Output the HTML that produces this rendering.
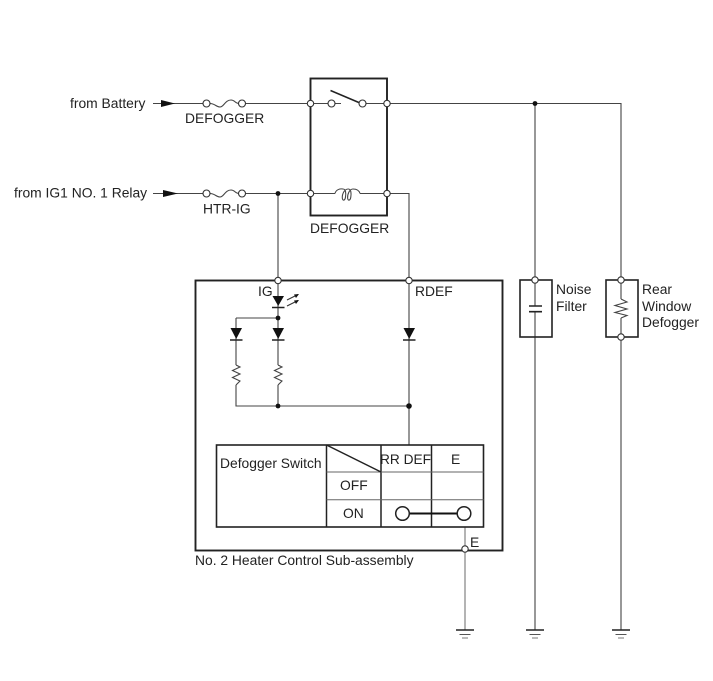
<!DOCTYPE html>
<html>
<head>
<meta charset="utf-8">
<style>
html,body{margin:0;padding:0;background:#fff}
svg{display:block}
text{font-family:"Liberation Sans",Arial,sans-serif;font-size:13.85px;fill:#222}
.w{stroke:#444;stroke-width:1.1;fill:none}
.b{stroke:#222;stroke-width:1.9;fill:none}
.c{stroke:#333;stroke-width:1.1;fill:#fff}
.d{fill:#111;stroke:none}
</style>
</head>
<body>
<svg width="713" height="681" viewBox="0 0 713 681" xmlns="http://www.w3.org/2000/svg">
<rect width="713" height="681" fill="#fff"/>

<!-- wires -->
<path class="w" d="M153 103.500H203M246 103.500H328M335 103.500H341M366 103.500H621V630"/>
<path class="w" d="M153 193.500H203M246 193.500H335M360 193.500H409V445"/>
<path class="w" d="M278 193.500V406"/>
<path class="w" d="M236 318H278M236 318V406H409"/>
<path class="w" d="M535 103.500V630"/>
<path class="w" d="M465 527V630" style="stroke:#777"/>

<!-- fuses -->
<path class="w" d="M210 103.500c5 0 6 3.500 10 3.500s5-7 11-7c4 0 4 3.500 8 3.500"/>
<path class="w" d="M210 193.500c5 0 6 3.500 10 3.500s5-7 11-7c4 0 4 3.500 8 3.500"/>

<!-- relay box -->
<rect class="b" x="310.500" y="78.500" width="76.500" height="137"/>
<rect x="336" y="186" width="24" height="10" fill="#fff"/>
<path class="w" d="M335 193.500c1-4 5-5 8-4.500c3 0 3 5 2.500 8c-.5 4-3 4-3.200 1c-.2-4 2-9 6-9c3 0 3 5 2.500 8c-.5 4-3 4-3.200 1c-.2-4 2-9 5.400-9c3 0 6 1 7 4.500"/>
<path d="M330.500 90.500L360 103" stroke="#222" stroke-width="1.500" fill="none"/>

<!-- arrows -->
<path class="d" d="M161 100L175 103.500L161 107Z"/>
<path class="d" d="M163 190L178 193.500L163 197Z"/>

<!-- main box -->
<rect class="b" x="195.500" y="280.500" width="307" height="270"/>

<!-- LED and diodes -->
<path class="d" d="M272.500 296H284L278.200 306Z"/>
<path d="M272 307.500H284.500M272 340H284.500M230 340H242.500M403 340H415.500" stroke="#222" stroke-width="1.400"/>
<path class="d" d="M272.500 328H284L278.200 339Z"/>
<path class="d" d="M230.500 328H242L236.200 339Z"/>
<path class="d" d="M403.500 328H415L409.200 339Z"/>
<path d="M287 300L298 294.500M287 306L298 300.500" stroke="#333" stroke-width="1.100" fill="none"/>
<path class="d" d="M299 294L294 294.500L296 298ZM299 300L294 300.500L296 304Z"/>

<!-- resistors in box -->
<rect x="233" y="365" width="6" height="20" fill="#fff"/>
<rect x="275" y="365" width="6" height="20" fill="#fff"/>
<path class="w" d="M236 365L240 367L232.500 370.500L240 374L232.500 377.500L240 381L236 385"/>
<path class="w" d="M278 365L282 367L274.500 370.500L282 374L274.500 377.500L282 381L278 385"/>

<!-- dots -->
<circle class="d" cx="278" cy="193.500" r="2.400"/>
<circle class="d" cx="278" cy="318" r="2.400"/>
<circle class="d" cx="278" cy="406" r="2.400"/>
<circle class="d" cx="409" cy="406" r="2.800"/>
<circle class="d" cx="535" cy="103.500" r="2.400"/>

<!-- switch table -->
<rect x="216.500" y="445" width="267" height="82" fill="#fff" stroke="#222" stroke-width="1.600"/>
<path d="M326.500 445V527M381 445V527M431.500 445V527" stroke="#222" stroke-width="1.500"/>
<path d="M326.500 472H483.500M326.500 499.700H483.500" stroke="#666" stroke-width="1"/>
<path d="M326.500 445L381 472" stroke="#222" stroke-width="1.500"/>
<path d="M409 513.500H458" stroke="#111" stroke-width="2"/>
<circle cx="402.500" cy="513.500" r="6.800" fill="#fff" stroke="#222" stroke-width="1.500"/>
<circle cx="464" cy="513.500" r="6.800" fill="#fff" stroke="#222" stroke-width="1.500"/>

<!-- noise filter -->
<rect class="b" x="520" y="280" width="32" height="57" style="stroke-width:1.600"/>
<rect x="530" y="306" width="11" height="5.500" fill="#fff"/>
<path d="M529 306H542M529 311.700H542" stroke="#222" stroke-width="1.600"/>

<!-- rear window defogger -->
<rect class="b" x="606" y="280" width="32" height="57" style="stroke-width:1.600"/>
<rect x="615" y="299" width="12" height="19" fill="#fff"/>
<path class="w" d="M621 299L627 302L615 305.500L627 309L615 312.500L627 315.500L621 318"/>

<!-- terminals -->
<circle class="c" cx="206.500" cy="103.500" r="3.500"/>
<circle class="c" cx="242" cy="103.500" r="3.500"/>
<circle class="c" cx="206.500" cy="193.500" r="3.500"/>
<circle class="c" cx="242" cy="193.500" r="3.500"/>
<circle class="c" cx="310.500" cy="103.500" r="3.200"/>
<circle class="c" cx="331.500" cy="103.500" r="3.500"/>
<circle class="c" cx="362.500" cy="103.500" r="3.500"/>
<circle class="c" cx="387" cy="103.500" r="3.200"/>
<circle class="c" cx="310.500" cy="193.500" r="3.200"/>
<circle class="c" cx="387" cy="193.500" r="3.200"/>
<circle class="c" cx="278" cy="280.500" r="3.200"/>
<circle class="c" cx="409" cy="280.500" r="3.200"/>
<circle class="c" cx="465" cy="549" r="3.200"/>
<circle class="c" cx="535" cy="280" r="3.200"/>
<circle class="c" cx="621" cy="280" r="3.200"/>
<circle class="c" cx="621" cy="337" r="3.200"/>

<!-- grounds -->
<path d="M456 630H474M526 630H544M612 630H630" stroke="#222" stroke-width="1.400"/>
<path d="M459.500 634.500H470.500M529.500 634.500H540.500M615.500 634.500H626.500" stroke="#555" stroke-width="1"/>
<path d="M462 638H468M532 638H538M618 638H624" stroke="#777" stroke-width="1"/>

<!-- labels -->
<text x="70" y="108">from Battery</text>
<text x="185" y="123">DEFOGGER</text>
<text x="14" y="197.500">from IG1 NO. 1 Relay</text>
<text x="203" y="213.500">HTR-IG</text>
<text x="310" y="233">DEFOGGER</text>
<text x="258" y="296">IG</text>
<text x="415" y="296">RDEF</text>
<text x="220" y="468">Defogger Switch</text>
<text x="380" y="464" textLength="51" lengthAdjust="spacingAndGlyphs">RR DEF</text>
<text x="451" y="464">E</text>
<text x="340" y="490">OFF</text>
<text x="343" y="518">ON</text>
<text x="470" y="547">E</text>
<text x="195" y="565">No. 2 Heater Control Sub-assembly</text>
<text x="556" y="294">Noise</text>
<text x="556" y="311">Filter</text>
<text x="642" y="294">Rear</text>
<text x="642" y="311">Window</text>
<text x="642" y="327">Defogger</text>
</svg>
</body>
</html>
